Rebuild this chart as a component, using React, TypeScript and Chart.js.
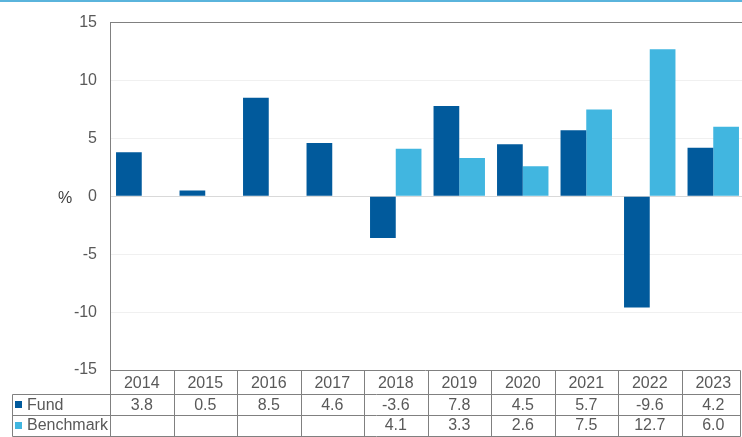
import React, { useEffect, useRef } from "react";
import { Chart, registerables } from "chart.js";

Chart.register(...registerables);

const years = ["2014", "2015", "2016", "2017", "2018", "2019", "2020", "2021", "2022", "2023"];
const fund: (number | null)[] = [3.8, 0.5, 8.5, 4.6, -3.6, 7.8, 4.5, 5.7, -9.6, 4.2];
const benchmark: (number | null)[] = [null, null, null, null, 4.1, 3.3, 2.6, 7.5, 12.7, 6.0];
const seriesNames = ["Fund", "Benchmark"];
const seriesColors = ["#015a9c", "#41b6e0"];
const yMin = -15;
const yMax = 15;
const yStep = 5;
const yTitle = "%";

const FONT = "'Liberation Sans', Arial, sans-serif";
const TEXT = "#595959";
const LINE = "#808080";

const tablePlugin = {
  id: "dataTable",
  afterDraw(chart: any) {
    const ctx = chart.ctx as CanvasRenderingContext2D;
    const area = chart.chartArea;
    const xs = chart.scales.x;
    const ys = chart.scales.y;
    const n = years.length;
    const cw = (area.right - area.left) / n;
    const viewRight = 740.5;
    ctx.save();

    // top decorative line
    ctx.fillStyle = "#5ab4dc";
    ctx.fillRect(0, 0, chart.width, 2);

    // % title
    ctx.fillStyle = "#404040";
    ctx.font = `16px ${FONT}`;
    ctx.textAlign = "center";
    ctx.textBaseline = "middle";
    ctx.fillText(yTitle, 65, ys.getPixelForValue(0) + 2);

    const top = Math.round(area.bottom) + 0.5;
    const r1 = top + 23.5;
    const r2 = r1 + 20.5;
    const r3 = r2 + 21;
    const labelLeft = 12.5;
    const left = Math.round(area.left) + 0.5;

    ctx.strokeStyle = LINE;
    ctx.lineWidth = 1;
    ctx.beginPath();
    ctx.moveTo(left, top);
    ctx.lineTo(viewRight, top);
    [r1, r2, r3].forEach((y) => {
      ctx.moveTo(labelLeft, Math.round(y) + 0.5);
      ctx.lineTo(viewRight, Math.round(y) + 0.5);
    });
    ctx.moveTo(labelLeft, Math.round(r1) + 0.5);
    ctx.lineTo(labelLeft, Math.round(r3) + 0.5);
    for (let i = 0; i <= n; i++) {
      let x = Math.round(area.left + i * cw) + 0.5;
      if (x > viewRight) x = viewRight;
      ctx.moveTo(x, top);
      ctx.lineTo(x, Math.round(r3) + 0.5);
    }
    ctx.stroke();

    ctx.fillStyle = TEXT;
    ctx.font = `16px ${FONT}`;
    ctx.textAlign = "center";
    ctx.textBaseline = "middle";
    const rows = [fund, benchmark];
    const rowMid = [(top + r1) / 2 + 1, (r1 + r2) / 2 + 1, (r2 + r3) / 2 + 1];
    years.forEach((yr, i) => {
      const cx = xs.getPixelForValue(i);
      ctx.fillStyle = TEXT;
      ctx.fillText(yr, cx, rowMid[0]);
      rows.forEach((arr, k) => {
        const v = arr[i];
        if (v !== null && v !== undefined) ctx.fillText(v.toFixed(1), cx, rowMid[k + 1]);
      });
    });

    ctx.textAlign = "left";
    seriesNames.forEach((name, k) => {
      const cy = rowMid[k + 1];
      ctx.fillStyle = seriesColors[k];
      ctx.fillRect(15, Math.round(cy - 4), 7, 7);
      ctx.fillStyle = TEXT;
      ctx.fillText(name, 27, cy);
    });
    ctx.restore();
  },
};

export default function App() {
  const ref = useRef<HTMLCanvasElement | null>(null);
  useEffect(() => {
    document.body.style.margin = "0";
    const canvas = ref.current!;
    const chart = new Chart(canvas, {
      type: "bar",
      data: {
        labels: years,
        datasets: [
          {
            label: seriesNames[0],
            data: fund,
            backgroundColor: seriesColors[0],
            barPercentage: 1,
            categoryPercentage: 0.81,
          },
          {
            label: seriesNames[1],
            data: benchmark,
            backgroundColor: seriesColors[1],
            barPercentage: 1,
            categoryPercentage: 0.81,
          },
        ],
      },
      options: {
        responsive: false,
        animation: false,
        events: [],
        layout: { padding: { left: 0, right: 1, top: 21, bottom: 67 } },
        plugins: { legend: { display: false }, tooltip: { enabled: false } },
        scales: {
          x: { display: false },
          y: {
            min: yMin,
            max: yMax,
            afterFit: (s: any) => {
              s.width = 110;
            },
            ticks: {
              stepSize: yStep,
              padding: 13,
              color: TEXT,
              font: { family: FONT, size: 16 },
            },
            border: { color: LINE, width: 1 },
            grid: {
              drawTicks: false,
              color: (c: any) => {
                const v = c.tick?.value;
                if (v === yMax) return LINE;
                if (v === yMin) return "rgba(0,0,0,0)";
                if (v === 0) return "#d9d9d9";
                return "#f0f0f0";
              },
            },
          },
        },
      },
      plugins: [tablePlugin],
    });
    return () => chart.destroy();
  }, []);
  return (
    <div style={{ position: "fixed", left: 0, top: 0, width: 742, height: 437, overflow: "hidden", background: "#fff" }}>
      <canvas ref={ref} width={746} height={437} style={{ display: "block", width: 746, height: 437 }} />
    </div>
  );
}
